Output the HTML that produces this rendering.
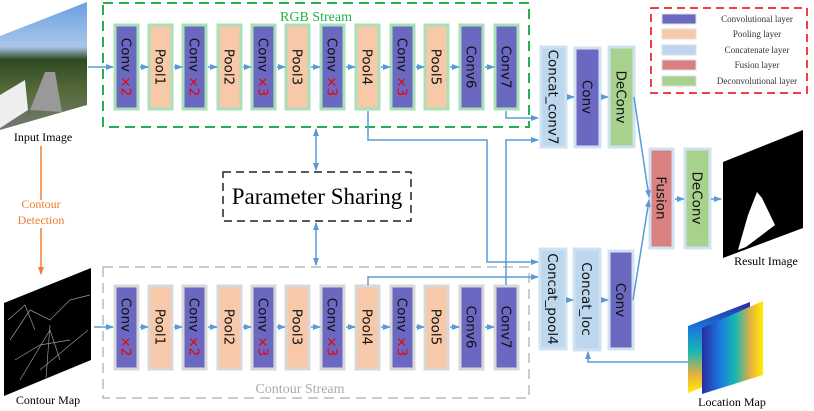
<!DOCTYPE html>
<html><head><meta charset="utf-8"><style>
html,body{margin:0;padding:0;background:#fff;}
svg{display:block}
.t{font-family:"DejaVu Sans","Liberation Sans",sans-serif;font-size:13.5px;fill:#111}
.s{font-family:"Liberation Serif",serif}
</style></head><body>
<svg width="814" height="411" viewBox="0 0 814 411" xmlns="http://www.w3.org/2000/svg">
<defs>
<marker id="a" markerWidth="8" markerHeight="8" refX="7" refY="4" orient="auto" markerUnits="userSpaceOnUse"><path d="M0,1 L8,4 L0,7 z" fill="#5b9bd5"/></marker>
<marker id="o" markerWidth="8" markerHeight="8" refX="7" refY="4" orient="auto" markerUnits="userSpaceOnUse"><path d="M0,1 L8,4 L0,7 z" fill="#ed7d31"/></marker>
<linearGradient id="sky" x1="0" y1="0" x2="0" y2="1"><stop offset="0" stop-color="#6aa0e0"/><stop offset="0.35" stop-color="#a9c6e8"/><stop offset="0.45" stop-color="#2f4a22"/><stop offset="0.7" stop-color="#556b3a"/><stop offset="1" stop-color="#777"/></linearGradient>
<linearGradient id="ph" x1="0" y1="0" x2="1" y2="0"><stop offset="0" stop-color="#2a2aa0"/><stop offset="0.3" stop-color="#1a7ae0"/><stop offset="0.55" stop-color="#1ab8b0"/><stop offset="0.8" stop-color="#e8b040"/><stop offset="1" stop-color="#ffee00"/></linearGradient>
<linearGradient id="pv" x1="0" y1="0" x2="0" y2="1"><stop offset="0" stop-color="#2a2aa0"/><stop offset="0.3" stop-color="#1a7ae0"/><stop offset="0.55" stop-color="#1ab8b0"/><stop offset="0.8" stop-color="#e8b040"/><stop offset="1" stop-color="#ffee00"/></linearGradient>
</defs>

<polygon points="0,36 87,2 87,105 0,130" fill="url(#sky)"/>
<polygon points="30,110 45,72 55,72 62,112" fill="#999"/>
<polygon points="0,95 25,80 28,110 0,128" fill="#eee"/>
<text x="43" y="141" text-anchor="middle" class="s" font-size="12">Input Image</text>
<line x1="41" y1="146" x2="41" y2="200" stroke="#ed7d31" stroke-width="1.5"/>
<line x1="41" y1="228" x2="41" y2="274" stroke="#ed7d31" stroke-width="1.5" marker-end="url(#o)"/>
<text x="41" y="208" text-anchor="middle" class="s" font-size="12" fill="#ed7d31">Contour</text>
<text x="41" y="224" text-anchor="middle" class="s" font-size="12" fill="#ed7d31">Detection</text>
<polygon points="4,303 91,268 91,360 4,396" fill="#000"/>
<path d="M10,340 L30,310 L50,320 L70,300 L90,295 M20,380 L50,330 L60,360 M40,370 L88,330 M8,320 L25,305 L35,330 M50,325 L46,378 M15,360 L40,345 L70,340" stroke="#999" stroke-width="0.7" fill="none"/>
<text x="48" y="404" text-anchor="middle" class="s" font-size="12">Contour Map</text>

<rect x="103" y="3" width="426" height="124" fill="none" stroke="#22b14c" stroke-width="2" stroke-dasharray="10,6"/>
<text x="316" y="21" text-anchor="middle" class="s" font-size="14" fill="#22b14c">RGB Stream</text>
<rect x="103" y="267" width="426" height="131" fill="none" stroke="#bbb" stroke-width="1.5" stroke-dasharray="10,6"/>
<text x="300" y="393" text-anchor="middle" class="s" font-size="14" fill="#aaa">Contour Stream</text>

<line x1="88" y1="67" x2="113" y2="67" stroke="#5b9bd5" stroke-width="1.5" marker-end="url(#a)"/>
<line x1="94" y1="327" x2="113" y2="327" stroke="#5b9bd5" stroke-width="1.5" marker-end="url(#a)"/>

<g stroke-width="3">
<g stroke="#a8e0b8">
<rect x="115" y="25" width="23" height="84" fill="#6b68c2"/>
<rect x="149" y="25" width="23" height="84" fill="#f7c9a8"/>
<rect x="183" y="25" width="23" height="84" fill="#6b68c2"/>
<rect x="218" y="25" width="23" height="84" fill="#f7c9a8"/>
<rect x="252" y="25" width="23" height="84" fill="#6b68c2"/>
<rect x="286" y="25" width="23" height="84" fill="#f7c9a8"/>
<rect x="321" y="25" width="23" height="84" fill="#6b68c2"/>
<rect x="356" y="25" width="23" height="84" fill="#f7c9a8"/>
<rect x="391" y="25" width="23" height="84" fill="#6b68c2"/>
<rect x="425" y="25" width="23" height="84" fill="#f7c9a8"/>
<rect x="460" y="25" width="23" height="84" fill="#6b68c2"/>
<rect x="495" y="25" width="23" height="84" fill="#6b68c2"/>
</g>
<g stroke="#d8d8d8">
<rect x="115" y="286" width="23" height="83" fill="#6b68c2"/>
<rect x="149" y="286" width="23" height="83" fill="#f7c9a8"/>
<rect x="183" y="286" width="23" height="83" fill="#6b68c2"/>
<rect x="218" y="286" width="23" height="83" fill="#f7c9a8"/>
<rect x="252" y="286" width="23" height="83" fill="#6b68c2"/>
<rect x="286" y="286" width="23" height="83" fill="#f7c9a8"/>
<rect x="321" y="286" width="23" height="83" fill="#6b68c2"/>
<rect x="356" y="286" width="23" height="83" fill="#f7c9a8"/>
<rect x="391" y="286" width="23" height="83" fill="#6b68c2"/>
<rect x="425" y="286" width="23" height="83" fill="#f7c9a8"/>
<rect x="460" y="286" width="23" height="83" fill="#6b68c2"/>
<rect x="495" y="286" width="23" height="83" fill="#6b68c2"/>
</g>
<g stroke="#d0e2f2">
<rect x="541" y="47" width="25" height="100" fill="#bdd7ee"/>
<rect x="540" y="249" width="26" height="100" fill="#bdd7ee"/>
<rect x="574" y="249" width="26" height="101" fill="#bdd7ee"/>
<rect x="575" y="48" width="25" height="99" fill="#6b68c2"/>
<rect x="609" y="47" width="25" height="100" fill="#a9d18e"/>
<rect x="609" y="251" width="24" height="98" fill="#6b68c2"/>
<rect x="650" y="149" width="23" height="99" fill="#d98080"/>
<rect x="685" y="149" width="25" height="99" fill="#a9d18e"/>
</g>
</g>

<g class="t">
<g transform="translate(126.5,67) rotate(90)"><text text-anchor="middle" y="5">Conv <tspan fill="#e00">×2</tspan></text></g>
<g transform="translate(160.5,67) rotate(90)"><text text-anchor="middle" y="5">Pool1</text></g>
<g transform="translate(194.5,67) rotate(90)"><text text-anchor="middle" y="5">Conv <tspan fill="#e00">×2</tspan></text></g>
<g transform="translate(229.5,67) rotate(90)"><text text-anchor="middle" y="5">Pool2</text></g>
<g transform="translate(263.5,67) rotate(90)"><text text-anchor="middle" y="5">Conv <tspan fill="#e00">×3</tspan></text></g>
<g transform="translate(297.5,67) rotate(90)"><text text-anchor="middle" y="5">Pool3</text></g>
<g transform="translate(332.5,67) rotate(90)"><text text-anchor="middle" y="5">Conv <tspan fill="#e00">×3</tspan></text></g>
<g transform="translate(367.5,67) rotate(90)"><text text-anchor="middle" y="5">Pool4</text></g>
<g transform="translate(402.5,67) rotate(90)"><text text-anchor="middle" y="5">Conv <tspan fill="#e00">×3</tspan></text></g>
<g transform="translate(436.5,67) rotate(90)"><text text-anchor="middle" y="5">Pool5</text></g>
<g transform="translate(471.5,67) rotate(90)"><text text-anchor="middle" y="5">Conv6</text></g>
<g transform="translate(506.5,67) rotate(90)"><text text-anchor="middle" y="5">Conv7</text></g>

<g transform="translate(126.5,327) rotate(90)"><text text-anchor="middle" y="5">Conv <tspan fill="#e00">×2</tspan></text></g>
<g transform="translate(160.5,327) rotate(90)"><text text-anchor="middle" y="5">Pool1</text></g>
<g transform="translate(194.5,327) rotate(90)"><text text-anchor="middle" y="5">Conv <tspan fill="#e00">×2</tspan></text></g>
<g transform="translate(229.5,327) rotate(90)"><text text-anchor="middle" y="5">Pool2</text></g>
<g transform="translate(263.5,327) rotate(90)"><text text-anchor="middle" y="5">Conv <tspan fill="#e00">×3</tspan></text></g>
<g transform="translate(297.5,327) rotate(90)"><text text-anchor="middle" y="5">Pool3</text></g>
<g transform="translate(332.5,327) rotate(90)"><text text-anchor="middle" y="5">Conv <tspan fill="#e00">×3</tspan></text></g>
<g transform="translate(367.5,327) rotate(90)"><text text-anchor="middle" y="5">Pool4</text></g>
<g transform="translate(402.5,327) rotate(90)"><text text-anchor="middle" y="5">Conv <tspan fill="#e00">×3</tspan></text></g>
<g transform="translate(436.5,327) rotate(90)"><text text-anchor="middle" y="5">Pool5</text></g>
<g transform="translate(471.5,327) rotate(90)"><text text-anchor="middle" y="5">Conv6</text></g>
<g transform="translate(506.5,327) rotate(90)"><text text-anchor="middle" y="5">Conv7</text></g>

<g transform="translate(553.5,97) rotate(90)"><text text-anchor="middle" y="5">Concat_conv7</text></g>
<g transform="translate(587.5,97) rotate(90)"><text text-anchor="middle" y="5">Conv</text></g>
<g transform="translate(621.5,97) rotate(90)"><text text-anchor="middle" y="5">DeConv</text></g>
<g transform="translate(553,299) rotate(90)"><text text-anchor="middle" y="5">Concat_pool4</text></g>
<g transform="translate(587,299) rotate(90)"><text text-anchor="middle" y="5">Concat_loc</text></g>
<g transform="translate(621,300) rotate(90)"><text text-anchor="middle" y="5">Conv</text></g>
<g transform="translate(661.5,198) rotate(90)"><text text-anchor="middle" y="5">Fusion</text></g>
<g transform="translate(697.5,198) rotate(90)"><text text-anchor="middle" y="5">DeConv</text></g>
</g>

<g stroke="#5b9bd5" stroke-width="1.5" fill="none" marker-end="url(#a)">
<line x1="140" y1="67" x2="148" y2="67"/><line x1="174" y1="67" x2="182" y2="67"/><line x1="208" y1="67" x2="217" y2="67"/><line x1="243" y1="67" x2="251" y2="67"/><line x1="277" y1="67" x2="285" y2="67"/><line x1="311" y1="67" x2="320" y2="67"/><line x1="346" y1="67" x2="355" y2="67"/><line x1="381" y1="67" x2="390" y2="67"/><line x1="416" y1="67" x2="424" y2="67"/><line x1="450" y1="67" x2="459" y2="67"/><line x1="485" y1="67" x2="494" y2="67"/>
<line x1="140" y1="327" x2="148" y2="327"/><line x1="174" y1="327" x2="182" y2="327"/><line x1="208" y1="327" x2="217" y2="327"/><line x1="243" y1="327" x2="251" y2="327"/><line x1="277" y1="327" x2="285" y2="327"/><line x1="311" y1="327" x2="320" y2="327"/><line x1="346" y1="327" x2="355" y2="327"/><line x1="381" y1="327" x2="390" y2="327"/><line x1="416" y1="327" x2="424" y2="327"/><line x1="450" y1="327" x2="459" y2="327"/><line x1="485" y1="327" x2="494" y2="327"/>
<polyline points="506,111 506,118 538,118"/>
<polyline points="368,111 368,140 487,140 487,262 538,262"/>
<polyline points="506,285 506,140 538,140"/>
<polyline points="368,285 368,277 538,277"/>
<line x1="567" y1="97" x2="574" y2="97"/>
<line x1="601" y1="97" x2="608" y2="97"/>
<line x1="567" y1="300" x2="573" y2="300"/>
<line x1="601" y1="300" x2="608" y2="300"/>
<line x1="634" y1="97" x2="649" y2="197"/>
<line x1="633" y1="300" x2="649" y2="200"/>
<line x1="675" y1="199" x2="684" y2="199"/>
<line x1="711" y1="199" x2="721" y2="199"/>
<polyline points="688,362 588,362 588,352"/>
<line x1="316" y1="150" x2="316" y2="170"/>
<line x1="316" y1="150" x2="316" y2="129"/>
<line x1="316" y1="245" x2="316" y2="223"/>
<line x1="316" y1="245" x2="316" y2="265"/>
</g>

<rect x="223" y="172" width="188" height="49" fill="#fff" stroke="#222" stroke-width="1.5" stroke-dasharray="8,5"/>
<text x="317" y="204" text-anchor="middle" class="s" font-size="23">Parameter Sharing</text>

<polygon points="723,162 803,130 803,228 723,258" fill="#000"/>
<polygon points="738,250 748,215 757,192 762,198 775,225 746,247" fill="#fff"/>
<text x="766" y="265" text-anchor="middle" class="s" font-size="12">Result Image</text>

<polygon points="688,326 750,302 750,368 688,393" fill="url(#pv)"/>
<polygon points="702,328 763,301 763,375 702,394" fill="url(#ph)"/>
<text x="732" y="406" text-anchor="middle" class="s" font-size="12">Location Map</text>

<rect x="651" y="8" width="156" height="85" fill="#fff" stroke="#e00" stroke-width="1.5" stroke-dasharray="8,5"/>
<g stroke="#ddd" stroke-width="1">
<rect x="662" y="14" width="34" height="10" fill="#6b68c2"/>
<rect x="662" y="29" width="34" height="10" fill="#f7c9a8"/>
<rect x="662" y="45" width="34" height="10" fill="#bdd7ee"/>
<rect x="662" y="60" width="34" height="10" fill="#d98080"/>
<rect x="662" y="76" width="34" height="10" fill="#a9d18e"/>
</g>
<g class="s" font-size="9" fill="#333" text-anchor="middle">
<text x="757" y="22">Convolutional layer</text>
<text x="757" y="37">Pooling layer</text>
<text x="757" y="53">Concatenate layer</text>
<text x="757" y="68">Fusion layer</text>
<text x="757" y="84">Deconvolutional layer</text>
</g>
</svg>
</body></html>
